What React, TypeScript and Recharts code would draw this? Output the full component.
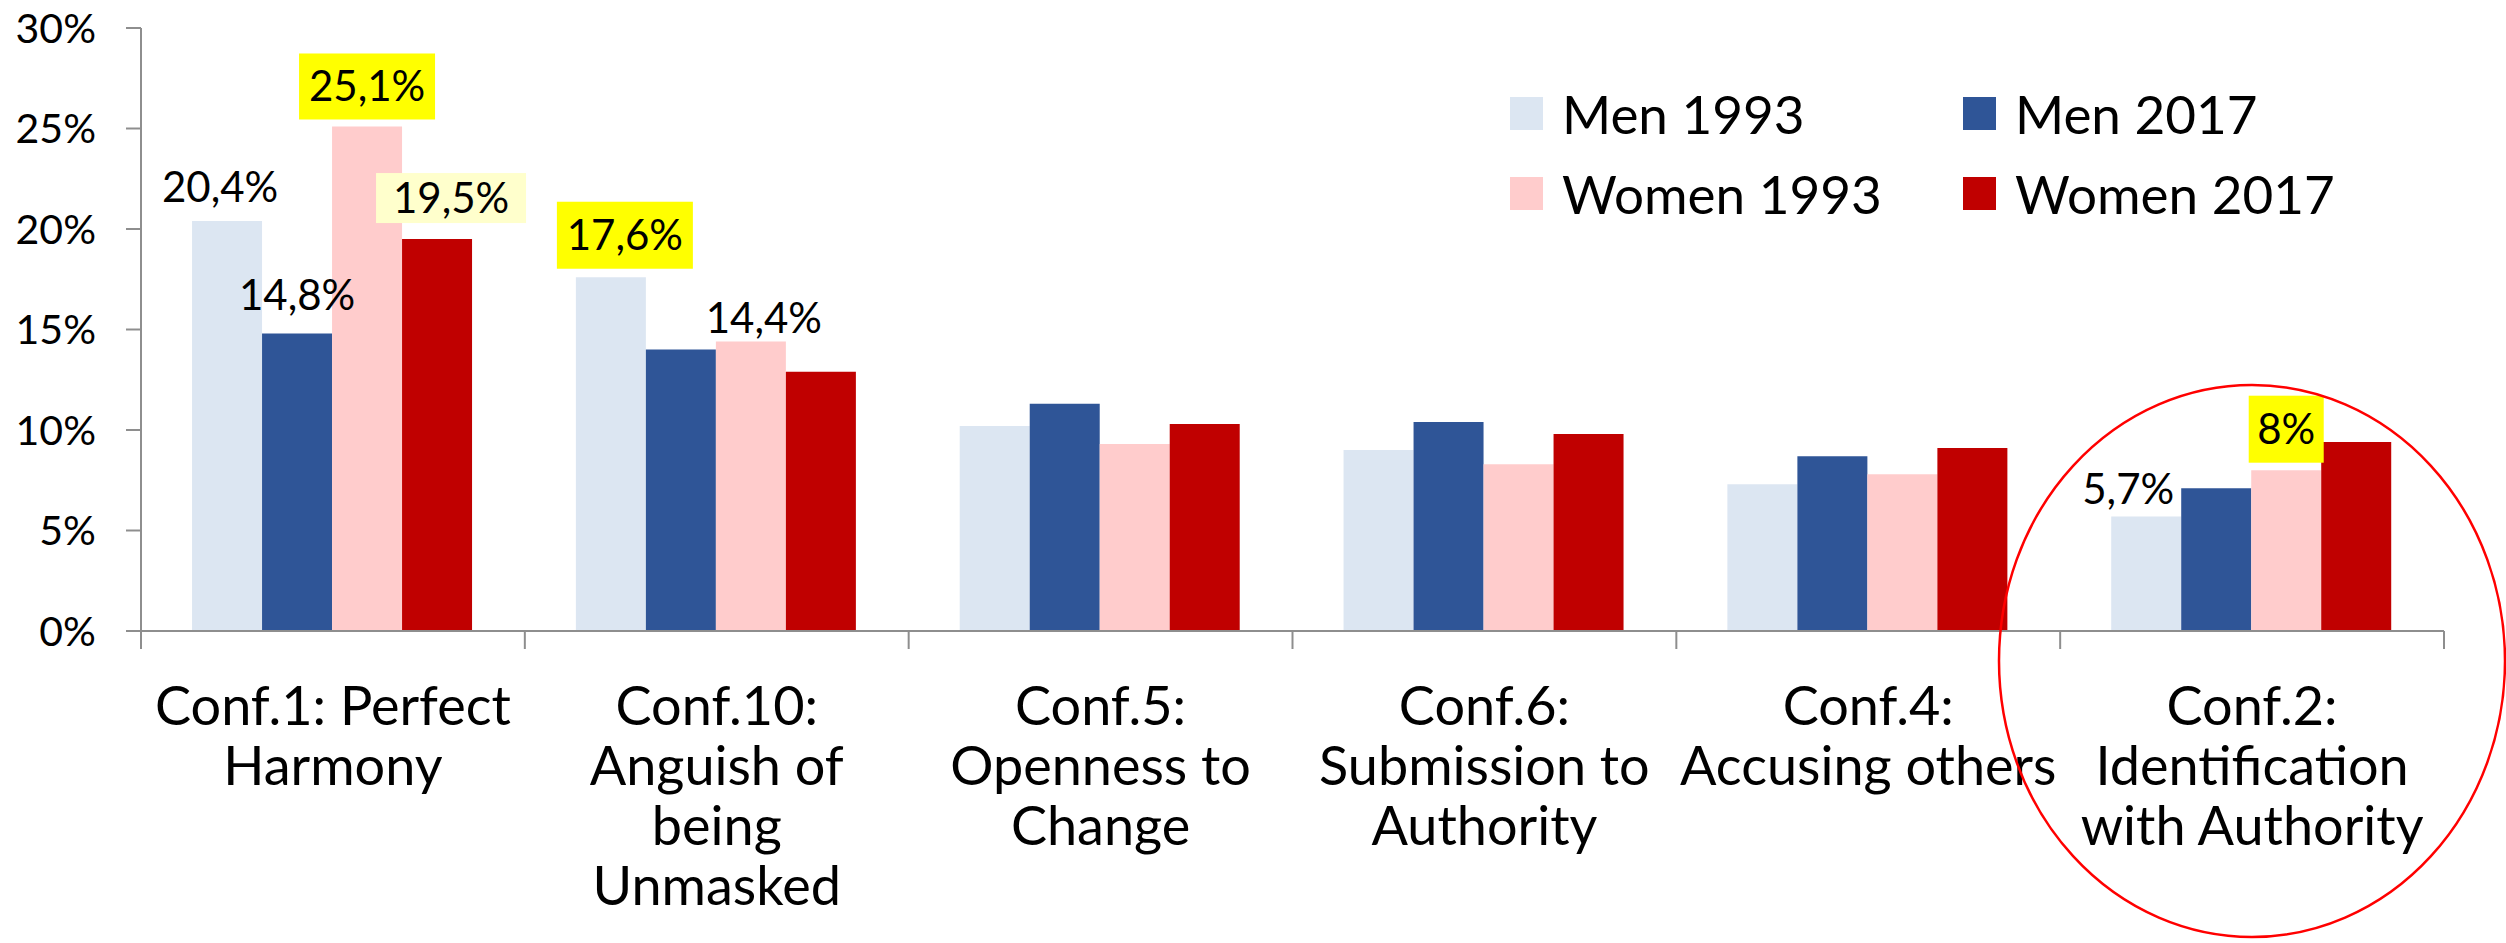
import { BarChart, Bar, XAxis, YAxis, Legend, LabelList } from 'recharts'

const categories = [
    'Conf.1: Perfect\nHarmony',
    'Conf.10:\nAnguish of\nbeing\nUnmasked',
    'Conf.5:\nOpenness to\nChange',
    'Conf.6:\nSubmission to\nAuthority',
    'Conf.4:\nAccusing others',
    'Conf.2:\nIdentification\nwith Authority',
]
const men1993 = [20.4, 17.6, 10.2, 9.0, 7.3, 5.7]
const men2017 = [14.8, 14.0, 11.3, 10.4, 8.7, 7.1]
const women1993 = [25.1, 14.4, 9.3, 8.3, 7.8, 8.0]
const women2017 = [19.5, 12.9, 10.3, 9.8, 9.1, 9.4]
const yTicks = [0, 5, 10, 15, 20, 25, 30]

const series = [
    { key: 'men1993', name: 'Men 1993', color: '#DCE6F2' },
    { key: 'men2017', name: 'Men 2017', color: '#2F5597' },
    { key: 'women1993', name: 'Women 1993', color: '#FFCCCC' },
    { key: 'women2017', name: 'Women 2017', color: '#C00000' },
]

const data = categories.map((name, i) => ({
    name,
    men1993: men1993[i],
    men2017: men2017[i],
    women1993: women1993[i],
    women2017: women2017[i],
}))

// which bars carry a value label, and how it sits (style only)
type Callout = { dx: number; rise: number; bg?: string; boxW?: number; boxH?: number }
const callouts: Record<string, Record<number, Callout>> = {
    men1993: {
        0: { dx: -7, rise: 34 },
        1: { dx: 14, rise: 42, bg: '#FFFF00', boxW: 136, boxH: 67 },
        5: { dx: -18, rise: 27 },
    },
    men2017: { 0: { dx: 0, rise: 39 } },
    women1993: {
        0: { dx: 0, rise: 40, bg: '#FFFF00', boxW: 136, boxH: 66 },
        1: { dx: 13, rise: 24 },
        5: { dx: 0, rise: 41, bg: '#FFFF00', boxW: 75, boxH: 67 },
    },
    women2017: { 0: { dx: 14, rise: 41, bg: '#FFFFCC', boxW: 150, boxH: 50 } },
}

const W = 2506
const H = 943
const FONT = 'Lato, sans-serif'
const AXIS = '#8E8E8E'
const Y_AXIS_W = 141
const RIGHT = 62
const BAND = (W - Y_AXIS_W - RIGHT) / categories.length

const pct = (v: number) => String(v).replace('.', ',') + '%'

const renderCallout = (key: string) => (props: any) => {
    const c = callouts[key][props.index]
    if (!c) return null
    const cx = Number(props.x) + Number(props.width) / 2 + c.dx
    const cy = Number(props.y) - c.rise
    return (
        <g>
            {c.bg && (
                <rect
                    x={cx - (c.boxW ?? 0) / 2}
                    y={cy - (c.boxH ?? 0) / 2}
                    width={c.boxW}
                    height={c.boxH}
                    fill={c.bg}
                />
            )}
            <text x={cx} y={cy + 15} textAnchor='middle' fontSize={42} fontFamily={FONT} fill='#000'>
                {pct(Number(props.value))}
            </text>
        </g>
    )
}

function CategoryTick(props: any) {
    const { x, y, payload, index } = props
    const lines = String(payload.value).split('\n')
    const left = x - BAND / 2
    return (
        <g>
            <line x1={left} x2={left} y1={y - 18} y2={y} stroke={AXIS} strokeWidth={2} />
            {index === categories.length - 1 && (
                <line x1={left + BAND} x2={left + BAND} y1={y - 18} y2={y} stroke={AXIS} strokeWidth={2} />
            )}
            <text textAnchor='middle' fontSize={54} fontFamily={FONT} fill='#000'>
                {lines.map((l, i) => (
                    <tspan key={i} x={x} y={y + 76 + i * 60}>
                        {l}
                    </tspan>
                ))}
            </text>
        </g>
    )
}

function LegendBox({ payload }: any) {
    return (
        <div style={{ display: 'grid', gridTemplateColumns: '453px 453px' }}>
            {(payload ?? []).map((p: any) => (
                <div key={p.value} style={{ display: 'flex', alignItems: 'center', height: 80 }}>
                    <span style={{ width: 33, height: 33, background: p.color, marginRight: 19, flex: 'none' }} />
                    <span style={{ fontSize: 53, fontFamily: FONT, color: '#000', lineHeight: 1 }}>{p.value}</span>
                </div>
            ))}
        </div>
    )
}

export default function App() {
    return (
        <div style={{ position: 'absolute', left: 0, top: 0, width: W, height: H, background: '#fff' }}>
            <BarChart
                width={W}
                height={H}
                data={data}
                margin={{ top: 28, right: RIGHT, bottom: 0, left: 0 }}
                barCategoryGap='13.3%'
                barGap={0}
            >
                <XAxis
                    dataKey='name'
                    height={312}
                    interval={0}
                    tickLine={false}
                    tickSize={18}
                    tickMargin={0}
                    axisLine={{ stroke: AXIS, strokeWidth: 2 }}
                    tick={<CategoryTick />}
                />
                <YAxis
                    width={Y_AXIS_W}
                    domain={[0, 30]}
                    ticks={yTicks}
                    tickFormatter={(v) => `${v}%`}
                    tickSize={15}
                    tickMargin={30}
                    tickLine={{ stroke: AXIS, strokeWidth: 2 }}
                    axisLine={{ stroke: AXIS, strokeWidth: 2 }}
                    tick={{ fontSize: 41, fontFamily: FONT, fill: '#000' }}
                />
                <Legend
                    layout='vertical'
                    align='center'
                    verticalAlign='middle'
                    content={<LegendBox />}
                    wrapperStyle={{ left: 1510, top: 73, width: 920, height: 170 }}
                />
                {series.map((s) => (
                    <Bar key={s.key} dataKey={s.key} name={s.name} fill={s.color} isAnimationActive={false}>
                        <LabelList dataKey={s.key} content={renderCallout(s.key)} />
                    </Bar>
                ))}
            </BarChart>
            <svg
                width={W}
                height={H}
                style={{ position: 'absolute', left: 0, top: 0, pointerEvents: 'none' }}
            >
                <ellipse cx={2252} cy={661} rx={253} ry={276} fill='none' stroke='#FF0000' strokeWidth={2.5} />
            </svg>
        </div>
    )
}
